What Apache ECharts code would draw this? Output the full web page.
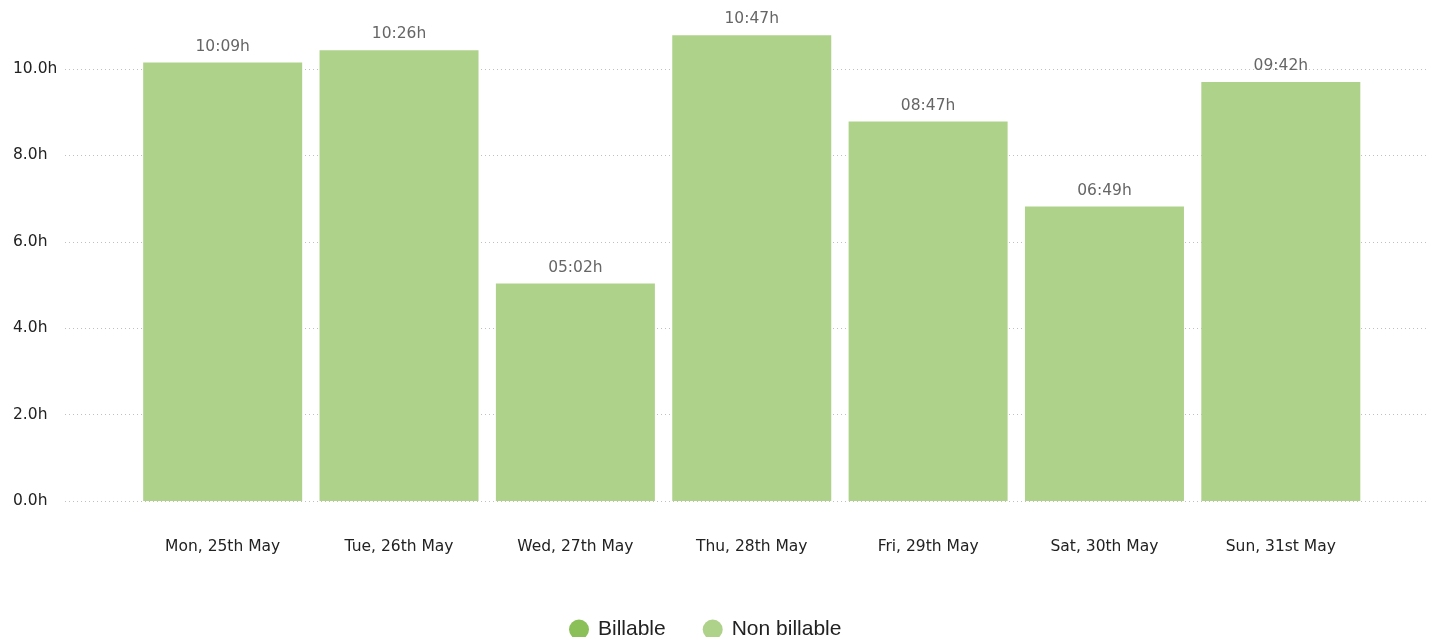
<!DOCTYPE html>
<html>
<head>
<meta charset="utf-8">
<script src="https://cdn.jsdelivr.net/npm/echarts@6/dist/echarts.min.js"></script>
<style>html,body{margin:0;padding:0;background:#fff}#c{width:1429px;height:637px}</style>
</head>
<body>
<div id="c"></div>
<script>
const categories = ['Mon, 25th May','Tue, 26th May','Wed, 27th May','Thu, 28th May','Fri, 29th May','Sat, 30th May','Sun, 31st May'];
const billableMinutes = [0,0,0,0,0,0,0];
const nonBillableMinutes = [609,626,302,647,527,409,582];
const yTicks = [0,2,4,6,8,10];

function fmt(min){
  const h = Math.floor(min/60), m = Math.round(min%60);
  return String(h).padStart(2,'0')+':'+String(m).padStart(2,'0')+'h';
}
const font = 'DejaVu Sans';
const chart = echarts.init(document.getElementById('c'));
chart.setOption({
  animation:false,
  legend:{
    bottom:-8, left:564, icon:'circle', itemWidth:20, itemHeight:20, itemGap:37,
    textStyle:{fontFamily:'Liberation Sans', fontSize:21, color:'#222', padding:[0,0,0,4]},
    data:['Billable','Non billable']
  },
  grid:[
    {left:65, right:2, top:69, bottom:136},
    {left:134.5, right:60, top:69, bottom:136}
  ],
  xAxis:[
    {gridIndex:0, type:'value', show:false, min:0, max:1},
    {gridIndex:1, type:'category', data:categories,
     axisLine:{show:false}, axisTick:{show:false},
     axisLabel:{margin:38, fontFamily:font, fontSize:15.5, color:'#222'}}
  ],
  yAxis:[
    {gridIndex:0, type:'value', min:yTicks[0], max:yTicks[yTicks.length-1], interval:2,
     axisLine:{show:false}, axisTick:{show:false},
     axisLabel:{align:'left', margin:52, fontFamily:font, fontSize:15.5, color:'#222',
       formatter:v=>v.toFixed(1)+'h'},
     splitLine:{lineStyle:{type:[1,3], color:'#c0c0c0', width:1}}},
    {gridIndex:1, type:'value', min:0, max:10, show:false, splitLine:{show:false}}
  ],
  series:[
    {name:'Billable', type:'bar', xAxisIndex:1, yAxisIndex:1, stack:'t', clip:false,
     barWidth:159, itemStyle:{color:'#8bbf58'},
     data:billableMinutes.map(v=>v/60)},
    {name:'Non billable', type:'bar', xAxisIndex:1, yAxisIndex:1, stack:'t', clip:false,
     barWidth:159, itemStyle:{color:'#aed28a'},
     label:{show:true, position:'top', distance:8, fontFamily:font, fontSize:15.5, color:'#666',
       formatter:p=>fmt(nonBillableMinutes[p.dataIndex]+billableMinutes[p.dataIndex])},
     data:nonBillableMinutes.map(v=>v/60)}
  ]
});
</script>
</body>
</html>
